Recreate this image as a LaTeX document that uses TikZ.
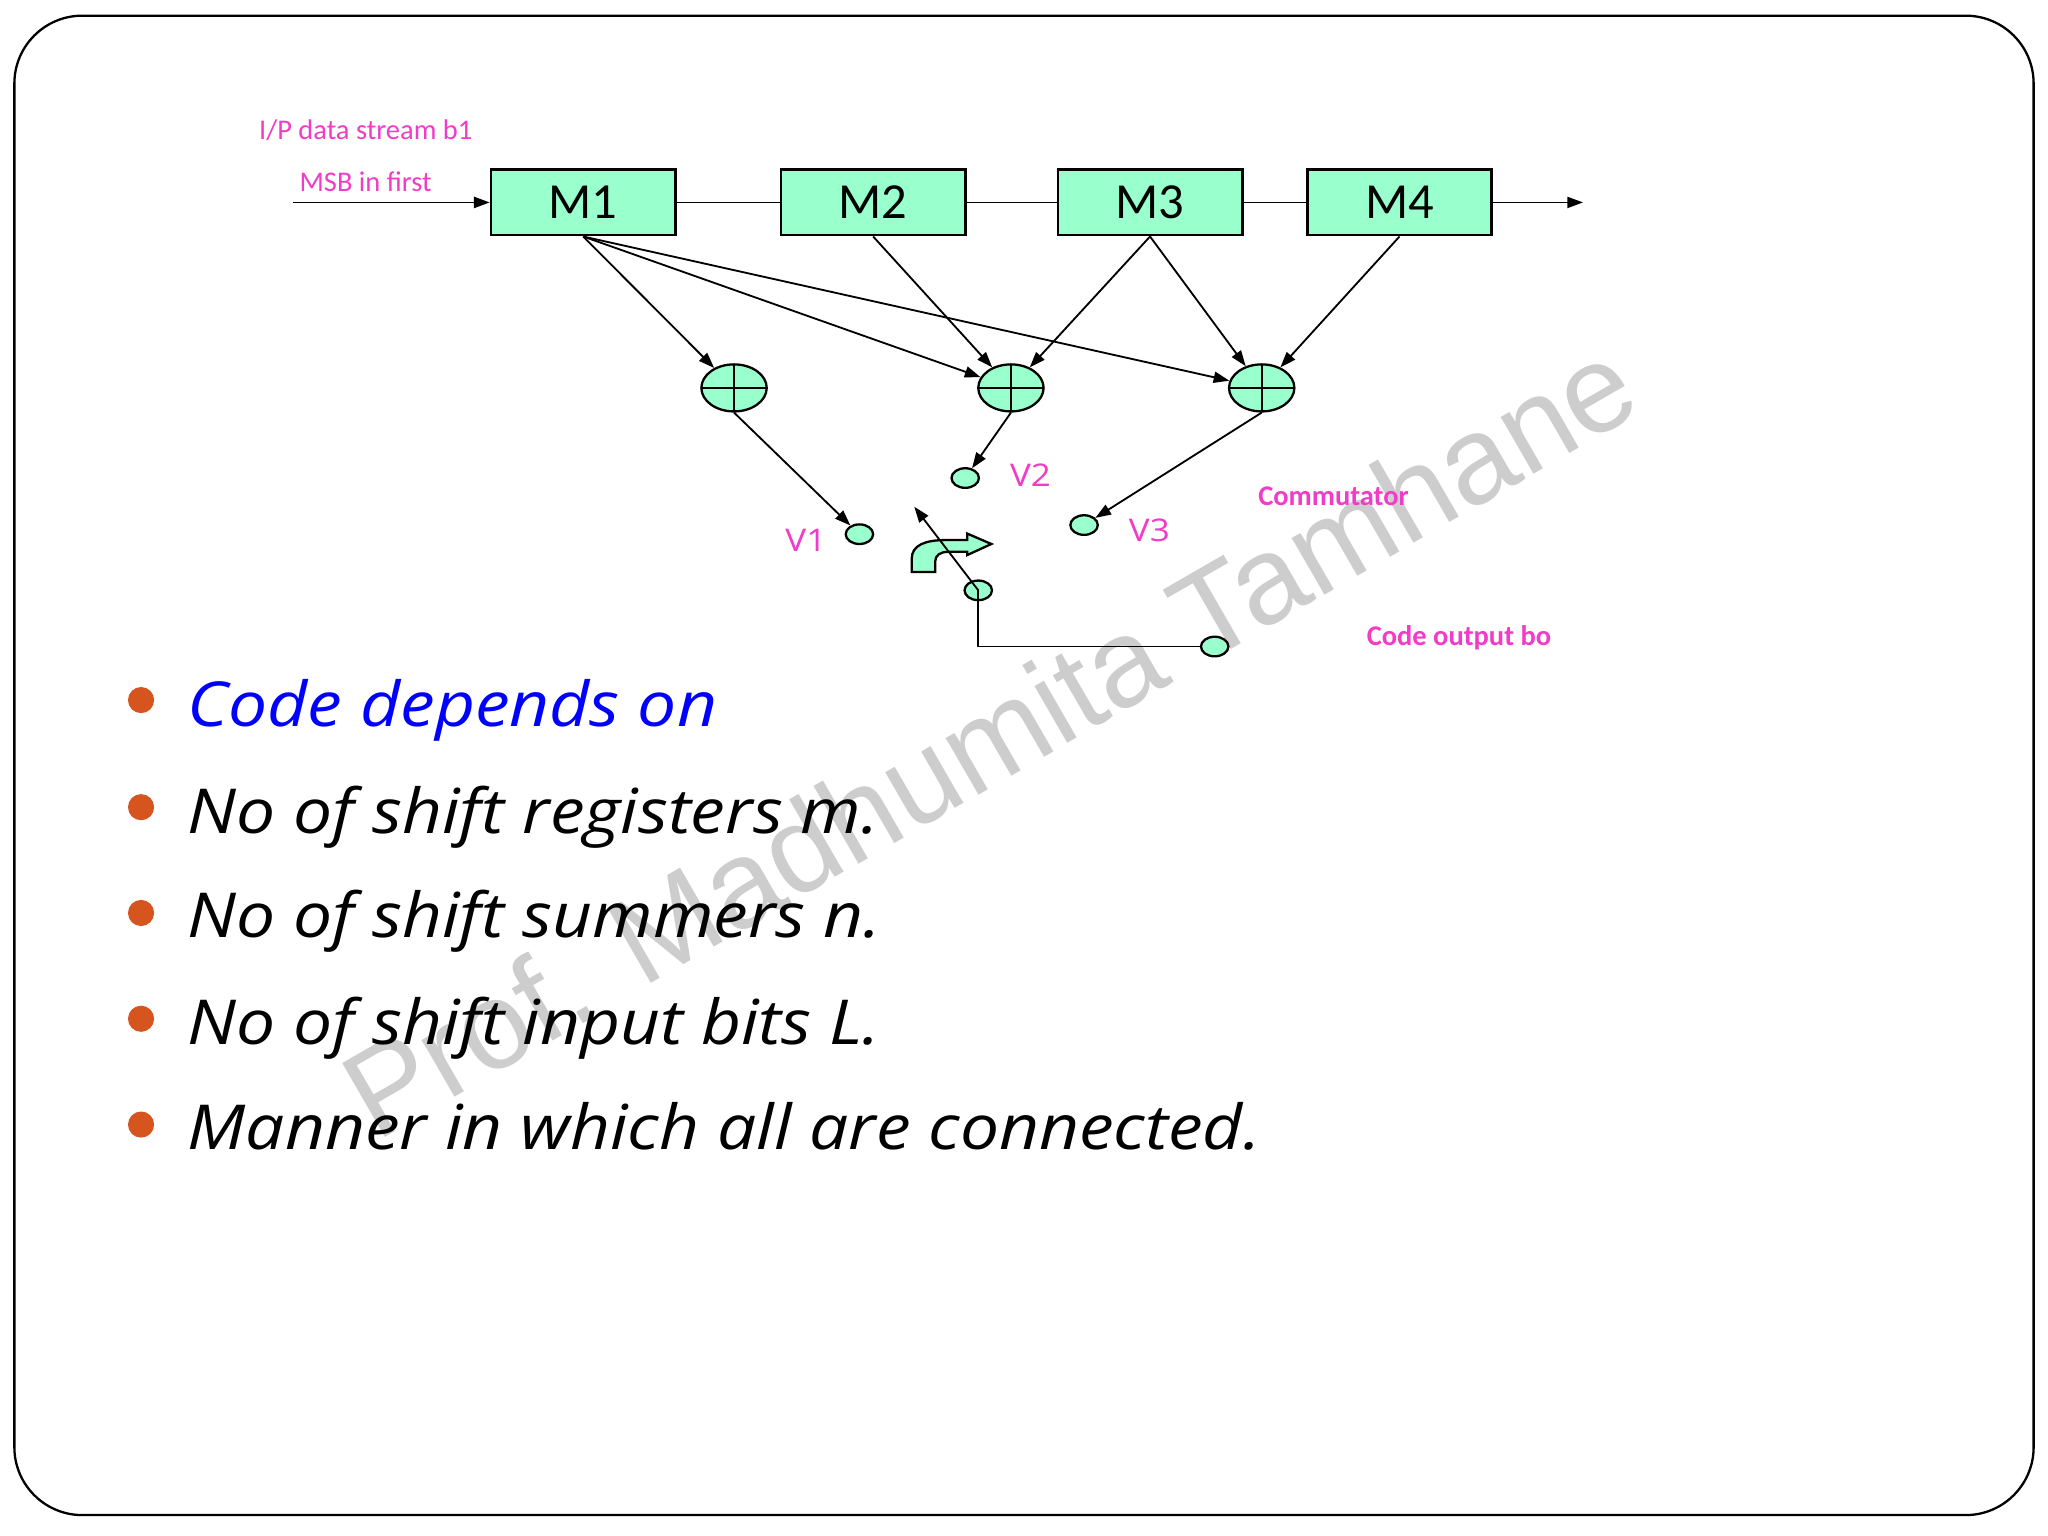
\documentclass[tikz,border=0pt]{standalone}
\usepackage{fontspec}
\newfontfamily\calibri{Carlito}
\newfontfamily\hand[FakeStretch=1.12]{Open Sans}
\newfontfamily\arial{Liberation Sans}
\usetikzlibrary{shapes.geometric,arrows.meta}
\definecolor{mint}{RGB}{153,255,204}
\definecolor{pinklabel}{RGB}{240,60,200}
\definecolor{bulletred}{RGB}{214,84,30}
\definecolor{marklight}{RGB}{205,205,205}
\begin{document}
\begin{tikzpicture}[x=0.01cm,y=-0.01cm,line width=0.4pt,
  >={Triangle[length=1.2mm,width=0.85mm]},
  reg/.style={draw,fill=mint,line width=0.6pt,minimum width=1.41cm,minimum height=0.5cm,inner sep=0pt,font=\calibri\fontsize{11}{13}\selectfont},
  adder/.style={ellipse,draw,fill=mint,line width=0.5pt,minimum width=0.5cm,minimum height=0.36cm,inner sep=0pt,
    path picture={\draw[line width=0.5pt] (path picture bounding box.north) -- (path picture bounding box.south)
      (path picture bounding box.west) -- (path picture bounding box.east);}},
  tap/.style={ellipse,draw,fill=mint,line width=0.5pt,minimum width=0.21cm,minimum height=0.15cm,inner sep=0pt},
  lab/.style={text=pinklabel,font=\calibri\fontsize{6.2}{7}\selectfont,inner sep=0pt},
  vlab/.style={text=pinklabel,font=\hand\fontsize{6.8}{8}\selectfont,inner sep=0pt},
  item/.style={anchor=base west,inner sep=0pt,font=\hand\itshape\fontsize{13.5}{16}\selectfont},
  dot/.style={circle,fill=bulletred,minimum size=0.2cm,inner sep=0pt}]
  \useasboundingbox (0,0) rectangle (1568,1176);
  \fill[white] (0,0) rectangle (1568,1176);
  \draw[line width=0.5pt,rounded corners=0.52cm] (11,12) rectangle (1557,1160);
  \node[text=marklight,font=\arial\fontsize{27}{30}\selectfont,rotate=30] (mark) at (757,565) {Prof. Madhumita Tamhane};

  \node[lab] (ip) at (280,100) {I/P data stream b1};
  \node[lab] (msb) at (280,139) {MSB in first};
  \node[reg] (m1) at (446.5,155) {M1};
  \node[reg] (m2) at (668.5,155) {M2};
  \node[reg] (m3) at (880.5,155) {M3};
  \node[reg] (m4) at (1071.5,155) {M4};
  \coordinate (in) at (224,155);
  \coordinate (out) at (1212,155);
  \draw[->] (in) -- (m1);
  \draw (m1) -- (m2) -- (m3) -- (m4);
  \draw[->] (m4) -- (out);

  \node[adder] (a1) at (562,297) {};
  \node[adder] (a2) at (774,297) {};
  \node[adder] (a3) at (966,297) {};
  \draw[->] (m1.south) -- (a1);
  \draw[->] (m1.south) -- (a2);
  \draw[->] (m1.south) -- (a3);
  \draw[->] (m2.south) -- (a2);
  \draw[->] (m3.south) -- (a2);
  \draw[->] (m3.south) -- (a3);
  \draw[->] (m4.south) -- (a3);

  \node[tap] (v1) at (658,409) {};
  \node[tap] (v2) at (739,366) {};
  \node[tap] (v3) at (830,402) {};
  \node[vlab] (v1l) at (617,414) {V1};
  \node[vlab] (v2l) at (789,364) {V2};
  \node[vlab] (v3l) at (880,406) {V3};
  \draw[->] (a1.south) -- (v1);
  \draw[->] (a2.south) -- (v2);
  \draw[->] (a3.south) -- (v3);

  \draw[fill=mint,line width=0.5pt] (698,438) -- (698,428) .. controls (698,417) and (709,413.5) .. (724,413.5)
    -- (740.5,413.5) -- (740.5,408.5) -- (759,416.5) -- (740.5,425) -- (740.5,422.5) -- (726,422.5)
    .. controls (720,422.5) and (716,425) .. (716,430) -- (716,438) -- cycle;
  \node[tap] (c) at (749,452) {};
  \node[tap] (o) at (930,495) {};
  \coordinate (ctip) at (700,388);
  \draw[->] (c.center) -- (ctip);
  \draw (c.center) |- (o);
  \node[lab,font=\calibri\bfseries\fontsize{6.2}{7}\selectfont] (comm) at (1021,380) {Commutator};
  \node[lab,font=\calibri\bfseries\fontsize{6.2}{7}\selectfont] (cout) at (1117,488) {Code output bo};

  \node[dot] (d1) at (108,536) {};
  \node[dot] (d2) at (108,618) {};
  \node[dot] (d3) at (108,699) {};
  \node[dot] (d4) at (108,780) {};
  \node[dot] (d5) at (108,861) {};
  \node[item,text=blue] (t1) at (143,556) {Code depends on};
  \node[item] (t2) at (143,638) {No of shift registers m.};
  \node[item] (t3) at (143,718) {No of shift summers n.};
  \node[item] (t4) at (143,800) {No of shift input bits L.};
  \node[item] (t5) at (143,880) {Manner in which all are connected.};
\end{tikzpicture}
\end{document}
